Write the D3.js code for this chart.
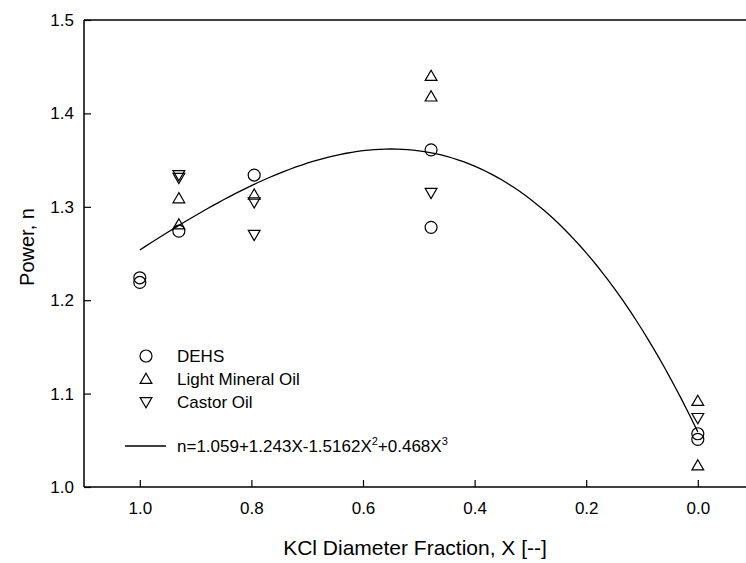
<!DOCTYPE html>
<html>
<head>
<meta charset="utf-8">
<script src="https://cdn.jsdelivr.net/npm/d3@7"></script>
<style>
  html, body { margin: 0; padding: 0; background: #fff; }
  text { font-family: Arial, "Liberation Sans", sans-serif; fill: #000; }
</style>
</head>
<body>
<svg id="chart" width="746" height="563"></svg>
<script>
// ---- data ----
const seriesNames = ["DEHS", "Light Mineral Oil", "Castor Oil"];
const dehsX = [1.0, 1.0, 0.93, 0.795, 0.478, 0.478, 0.0, 0.0];
const dehsY = [1.224, 1.219, 1.274, 1.334, 1.361, 1.278, 1.057, 1.051];
const mineralX = [0.93, 0.93, 0.795, 0.478, 0.478, 0.0, 0.0];
const mineralY = [1.309, 1.281, 1.313, 1.440, 1.418, 1.092, 1.023];
const castorX = [0.93, 0.93, 0.795, 0.795, 0.478, 0.0];
const castorY = [1.334, 1.331, 1.305, 1.270, 1.315, 1.074];
const fitCoefficients = [1.059, 1.243, -1.5162, 0.468];
const fitRange = [1.0, 0.0];
const xTicks = [1.0, 0.8, 0.6, 0.4, 0.2, 0.0];
const yTicks = [1.0, 1.1, 1.2, 1.3, 1.4, 1.5];

(function () {
const svg = d3.select("#chart");
const W = 746, H = 563;
const mLeft = 84, mTop = 20, mBottom = 487;

const x = d3.scaleLinear().domain([1.1, -0.1]).range([mLeft, mLeft + 1.2 * 558]);
const y = d3.scaleLinear().domain([1.0, 1.5]).range([mBottom, mTop]);

// frame line on top
svg.append("line").attr("x1", mLeft).attr("x2", W).attr("y1", mTop).attr("y2", mTop)
  .attr("stroke", "#000").attr("stroke-width", 1.5);

// axes
const xAxis = d3.axisBottom(x).tickValues(xTicks).tickFormat(d3.format(".1f"))
  .tickSizeInner(-7).tickSizeOuter(0).tickPadding(15);
const gx = svg.append("g").attr("transform", `translate(0,${mBottom})`).call(xAxis);
gx.select(".domain").remove();
gx.append("line").attr("x1", mLeft).attr("x2", W).attr("y1", 0).attr("y2", 0)
  .attr("stroke", "#000").attr("stroke-width", 1.5);
gx.selectAll(".tick line").attr("stroke", "#000").attr("stroke-width", 1.2);
gx.selectAll(".tick text").attr("font-size", 17).attr("font-family", "Arial, 'Liberation Sans', sans-serif");

const yAxis = d3.axisLeft(y).tickValues(yTicks).tickFormat(d3.format(".1f"))
  .tickSizeInner(-7).tickSizeOuter(0).tickPadding(10);
const gy = svg.append("g").attr("transform", `translate(${mLeft},0)`).call(yAxis);
gy.select(".domain").remove();
gy.append("line").attr("x1", 0).attr("x2", 0).attr("y1", mTop).attr("y2", mBottom)
  .attr("stroke", "#000").attr("stroke-width", 1.5);
gy.selectAll(".tick line").attr("stroke", "#000").attr("stroke-width", 1.2);
gy.selectAll(".tick text").attr("font-size", 17).attr("font-family", "Arial, 'Liberation Sans', sans-serif");

// axis titles
svg.append("text").attr("x", 415).attr("y", 555).attr("text-anchor", "middle")
  .attr("font-size", 21).text("KCl Diameter Fraction, X [--]");
svg.append("text").attr("transform", `translate(34,247) rotate(-90)`).attr("text-anchor", "middle")
  .attr("font-size", 20).text("Power, n");

// fit curve (from the printed equation)
const poly = X => fitCoefficients.reduce((s, c, i) => s + c * Math.pow(X, i), 0);
const curveXs = d3.range(0, 101).map(i => fitRange[0] + (fitRange[1] - fitRange[0]) * i / 100);
svg.append("path")
  .attr("d", d3.line().x(d => x(d)).y(d => y(poly(d)))(curveXs))
  .attr("fill", "none").attr("stroke", "#000").attr("stroke-width", 1.3);

// marker symbols
const circleSym = d3.symbol().type(d3.symbolCircle).size(Math.PI * 6 * 6);
const triSym = d3.symbol().type(d3.symbolTriangle).size(60);
function drawMarker(g, type, cx, cy) {
  const path = type === 0 ? circleSym() : triSym();
  const rot = type === 2 ? 180 : 0;
  const dy = type === 0 ? 0 : (type === 1 ? 1 : -1);
  g.append("path").attr("d", path)
    .attr("transform", `translate(${cx},${cy + dy}) rotate(${rot})`)
    .attr("fill", "none").attr("stroke", "#000").attr("stroke-width", 1.2);
}

const allSeries = [[dehsX, dehsY], [mineralX, mineralY], [castorX, castorY]];
const gm = svg.append("g");
allSeries.forEach(([xs, ys], si) => {
  xs.forEach((xv, i) => drawMarker(gm, si, x(xv), y(ys[i])));
});

// legend
const legendRows = [356, 379, 402];
const lg = svg.append("g");
seriesNames.forEach((name, i) => {
  drawMarker(lg, i, 146, legendRows[i]);
  lg.append("text").attr("x", 177).attr("y", legendRows[i] + 6).attr("font-size", 17).text(name);
});
lg.append("line").attr("x1", 125).attr("x2", 166).attr("y1", 446).attr("y2", 446)
  .attr("stroke", "#000").attr("stroke-width", 1.3);
const eq = lg.append("text").attr("x", 177).attr("y", 452).attr("font-size", 17);
eq.append("tspan").text("n=1.059+1.243X-1.5162X");
eq.append("tspan").attr("dy", -7).attr("font-size", 11).text("2");
eq.append("tspan").attr("dy", 7).text("+0.468X");
eq.append("tspan").attr("dy", -7).attr("font-size", 11).text("3");
})();
</script>
</body>
</html>
